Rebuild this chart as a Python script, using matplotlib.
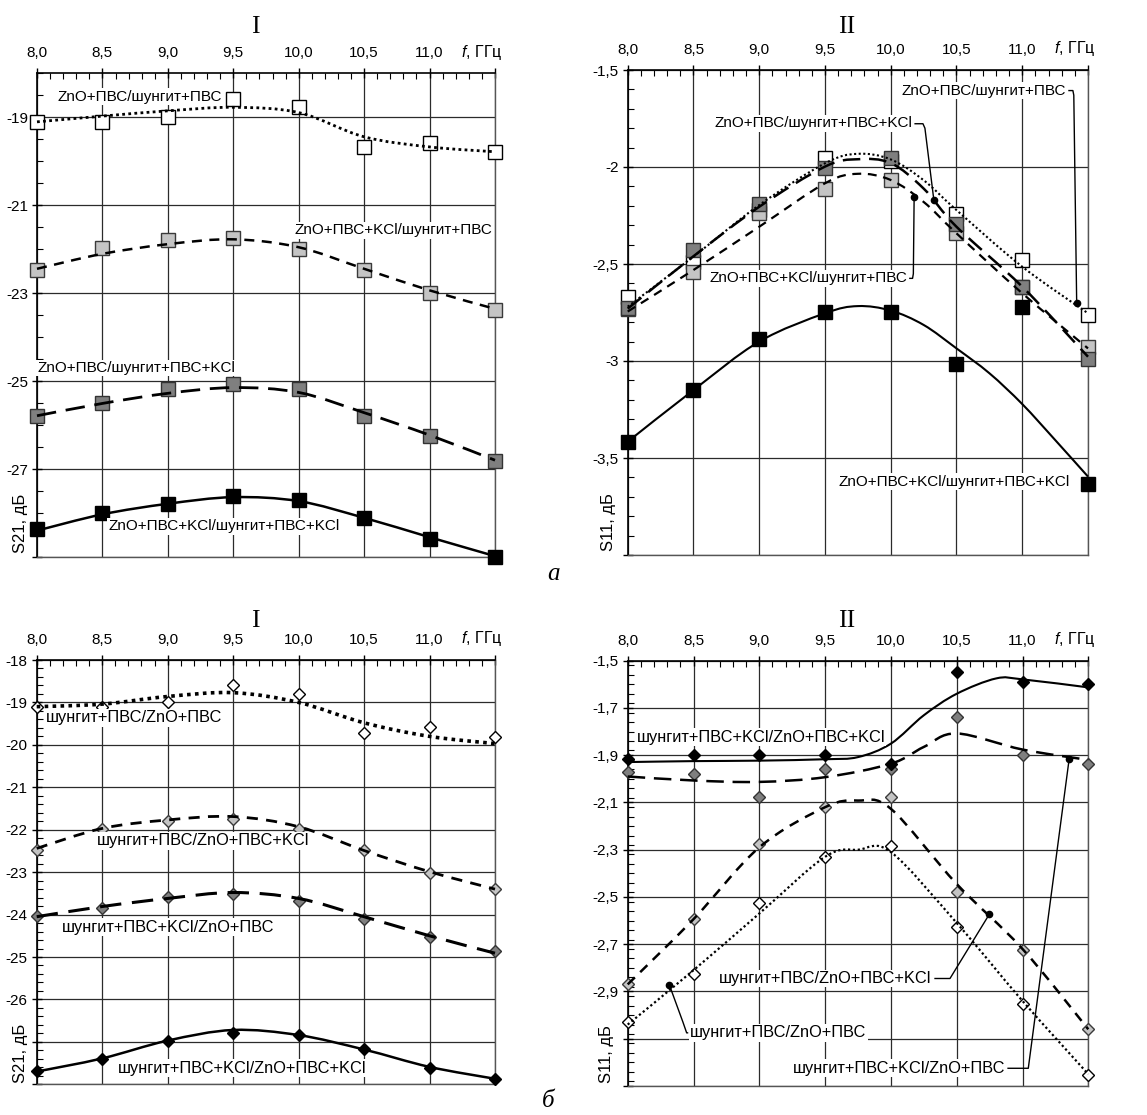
import numpy as np
import matplotlib
matplotlib.use('Agg')
import matplotlib.pyplot as plt
from matplotlib.path import Path
from matplotlib.patches import PathPatch
from matplotlib.ticker import MultipleLocator

plt.rcParams['font.family'] = ['Liberation Sans', 'DejaVu Sans']
plt.rcParams['mathtext.fontset'] = 'custom'
plt.rcParams['mathtext.it'] = 'Liberation Sans:italic'
plt.rcParams['mathtext.rm'] = 'Liberation Sans'

W, H = 1147, 1115

# ---------------- data ----------------
freq = [8.0, 8.5, 9.0, 9.5, 10.0, 10.5, 11.0, 11.5]
x_ticklabels = ['8,0', '8,5', '9,0', '9,5', '10,0', '10,5', '11,0', '']
f_label = '$f$, ГГц'

# --- a, I : S21 (squares)
a1_names = ['ZnO+ПВС/шунгит+ПВС', 'ZnO+ПВС+KCl/шунгит+ПВС',
            'ZnO+ПВС/шунгит+ПВС+KCl', 'ZnO+ПВС+KCl/шунгит+ПВС+KCl']
a1_white = [-19.11, -19.11, -18.99, -18.59, -18.77, -19.68, -19.60, -19.79]
a1_light = [-22.47, -21.97, -21.80, -21.74, -21.99, -22.47, -23.00, -23.38]
a1_dark = [-25.79, -25.49, -25.18, -25.07, -25.18, -25.79, -26.25, -26.82]
a1_black = [-28.37, -28.00, -27.80, -27.62, -27.71, -28.11, -28.60, -29.00]
a1_white_fit = [-19.11, -18.98, -18.86, -18.78, -18.90, -19.45, -19.68, -19.79]
a1_light_fit = [-22.45, -22.11, -21.89, -21.78, -21.96, -22.45, -22.94, -23.36]
a1_dark_fit = [-25.79, -25.51, -25.28, -25.15, -25.26, -25.72, -26.23, -26.80]
a1_black_fit = [-28.40, -28.03, -27.79, -27.64, -27.73, -28.11, -28.55, -28.98]
a1_yticks = [-29, -27, -25, -23, -21, -19]
a1_yticklabels = ['', '-27', '-25', '-23', '-21', '-19']

# --- a, II : S11 (squares)
a2_white = [-2.67, -2.49, -2.22, -1.955, -1.97, -2.24, -2.48, -2.763]
a2_light = [-2.73, -2.54, -2.239, -2.115, -2.067, -2.342, -2.62, -2.926]
a2_dark = [-2.728, -2.428, -2.191, -2.007, -1.955, -2.294, -2.617, -2.991]
a2_black = [-3.416, -3.149, -2.888, -2.746, -2.749, -3.015, -2.72, -3.634]
a2_fit_x = [8.0, 8.5, 9.0, 9.5, 9.75, 10.0, 10.25, 10.5, 11.0, 11.5]
a2_white_fit = [-2.72, -2.462, -2.196, -1.981, -1.932, -1.961, -2.068, -2.222, -2.514, -2.754]
a2_light_fit = [-2.745, -2.531, -2.308, -2.084, -2.035, -2.067, -2.18, -2.342, -2.651, -2.935]
a2_dark_fit = [-2.73, -2.46, -2.205, -1.998, -1.96, -1.98, -2.111, -2.308, -2.617, -2.978]
a2_black_fit_x = [8.0, 8.5, 9.0, 9.5, 9.75, 10.0, 10.25, 10.5, 10.75, 11.0, 11.25, 11.5]
a2_black_fit = [-3.416, -3.15, -2.90, -2.754, -2.717, -2.74, -2.814, -2.935, -3.063, -3.222, -3.407, -3.596]
a2_yticks = [-4.0, -3.5, -3.0, -2.5, -2.0, -1.5]
a2_yticklabels = ['', '-3,5', '-3', '-2,5', '-2', '-1,5']

# --- b, I : S21 (diamonds)
b_names = ['шунгит+ПВС/ZnO+ПВС', 'шунгит+ПВС/ZnO+ПВС+KCl',
           'шунгит+ПВС+KCl/ZnO+ПВС', 'шунгит+ПВС+KCl/ZnO+ПВС+KCl']
b1_white = [-19.10, -19.11, -19.00, -18.59, -18.80, -19.71, -19.59, -19.81]
b1_light = [-22.48, -21.99, -21.79, -21.75, -21.99, -22.48, -23.01, -23.40]
b1_dark = [-24.03, -23.85, -23.58, -23.52, -23.68, -24.10, -24.52, -24.87]
b1_black = [-27.69, -27.41, -26.97, -26.78, -26.84, -27.17, -27.62, -27.88]
b1_white_fit = [-19.10, -19.04, -18.86, -18.77, -19.00, -19.48, -19.80, -19.97]
b1_light_fit = [-22.44, -21.97, -21.77, -21.69, -21.93, -22.49, -22.99, -23.40]
b1_dark_fit = [-24.05, -23.81, -23.62, -23.48, -23.62, -24.05, -24.50, -24.91]
b1_black_fit = [-27.70, -27.39, -26.97, -26.72, -26.84, -27.18, -27.59, -27.87]
b1_yticks = [-28, -27, -26, -25, -24, -23, -22, -21, -20, -19, -18]
b1_yticklabels = ['', '', '-26', '-25', '-24', '-23', '-22', '-21', '-20', '-19', '-18']

# --- b, II : S11 (diamonds)
b2_white = [-3.029, -2.825, -2.527, -2.332, -2.283, -2.627, -2.955, -3.252]
b2_light = [-2.87, -2.594, -2.275, -2.12, -2.075, -2.477, -2.726, -3.06]
b2_dark = [-1.971, -1.981, -2.077, -1.96, -1.96, -1.738, -1.897, -1.936]
b2_black = [-1.914, -1.90, -1.90, -1.90, -1.936, -1.547, -1.59, -1.60]
b2_fit_x = [8.0, 8.5, 9.0, 9.5, 9.75, 10.0, 10.5, 11.0, 11.5]
b2_white_fit = [-3.04, -2.81, -2.57, -2.33, -2.30, -2.31, -2.61, -2.94, -3.25]
b2_light_fit = [-2.87, -2.594, -2.29, -2.12, -2.092, -2.127, -2.445, -2.72, -3.06]
b2_dark_fit_x = [8.0, 8.5, 9.0, 9.5, 10.0, 10.25, 10.5, 11.0, 11.5]
b2_dark_fit = [-1.99, -2.007, -2.013, -1.993, -1.936, -1.865, -1.808, -1.876, -1.92]
b2_black_fit_x = [8.0, 8.5, 9.0, 9.5, 9.75, 10.0, 10.25, 10.5, 10.8, 11.0, 11.5]
b2_black_fit = [-1.929, -1.925, -1.923, -1.917, -1.908, -1.851, -1.731, -1.640, -1.575, -1.579, -1.613]
b2_yticks = [-3.3, -3.1, -2.9, -2.7, -2.5, -2.3, -2.1, -1.9, -1.7, -1.5]
b2_yticklabels = ['', '', '-2,9', '-2,7', '-2,5', '-2,3', '-2,1', '-1,9', '-1,7', '-1,5']

# ---------------- styles ----------------
FILL = ['white', '#c4c4c4', '#7f7f7f', 'black']
EDGE = ['black', '#3a3a3a', '#333333', 'black']
LS = [(0, (1, 1.2)), (0, (4, 3)), (0, (7, 3.5)), '-']


def px_rect(l, r, t, b):
    return [l / W, 1 - b / H, (r - l) / W, (b - t) / H]


def smooth_path(xs, ys):
    P = np.column_stack([xs, ys]).astype(float)
    n = len(P)
    verts = [P[0]]
    codes = [Path.MOVETO]
    for i in range(n - 1):
        p0 = P[i - 1] if i > 0 else P[i]
        p1, p2 = P[i], P[i + 1]
        p3 = P[i + 2] if i + 2 < n else P[i + 1]
        verts += [p1 + (p2 - p0) / 6.0, p2 - (p3 - p1) / 6.0, p2]
        codes += [Path.CURVE4] * 3
    return Path(verts, codes)


def setup_axes(ax, ylim, yticks, yticklabels, yminor):
    ax.set_xlim(8.0, 11.5)
    ax.set_ylim(*ylim)
    ax.xaxis.tick_top()
    ax.set_xticks(freq)
    ax.set_xticklabels(x_ticklabels)
    ax.xaxis.set_minor_locator(MultipleLocator(0.1))
    ax.set_yticks(yticks)
    ax.set_yticklabels(yticklabels)
    ax.yaxis.set_minor_locator(MultipleLocator(yminor))
    ax.tick_params(axis='x', which='major', direction='inout', length=7, width=1,
                   pad=6, labelsize=11, top=True, bottom=False)
    ax.tick_params(axis='x', which='minor', direction='in', length=4, width=0.8,
                   top=True, bottom=False)
    ax.tick_params(axis='y', which='major', direction='inout', length=7, width=1,
                   pad=3, labelsize=11)
    ax.tick_params(axis='y', which='minor', direction='in', length=4, width=0.8)
    ax.grid(True, which='major', color='#2b2b2b', lw=0.9)
    for s in ['top', 'left']:
        ax.spines[s].set_color('black')
        ax.spines[s].set_linewidth(1.2)
    for s in ['right', 'bottom']:
        ax.spines[s].set_color('#555555')
        ax.spines[s].set_linewidth(1.0)
    ax.set_axisbelow(True)
    ax.annotate(f_label, xy=(1, 1), xycoords='axes fraction', xytext=(7, 21),
                textcoords='offset pixels', ha='right', va='center', fontsize=11.5)


def draw_series(ax, x, ys, marker, ms, mew):
    for i, y in enumerate(ys):
        ax.plot(x, y, linestyle='none', marker=marker, ms=ms, mfc=FILL[i],
                mec=EDGE[i], mew=mew, zorder=3 + i * 0.1, clip_on=False)


def draw_fits(ax, fits, lws):
    for i, (fx, fy) in enumerate(fits):
        patch = PathPatch(smooth_path(fx, fy), fill=False, edgecolor='black',
                          lw=lws[i], linestyle=LS[i], zorder=4, clip_on=False,
                          capstyle='butt')
        ax.add_patch(patch)


def label(ax, x, y, s, ha='center', fs=11):
    ax.text(x, y, s, ha=ha, va='center', fontsize=fs, zorder=5,
            bbox=dict(facecolor='white', edgecolor='none', pad=1.0))


def leader(ax, xs, ys):
    ax.plot(xs, ys, color='black', lw=1.0, zorder=6, solid_capstyle='butt')
    ax.plot(xs[-1], ys[-1], 'o', color='black', ms=4.5, zorder=6)


fig = plt.figure(figsize=(W / 100, H / 100), dpi=100)

# ---------- a, I ----------
ax = fig.add_axes(px_rect(37, 495, 73, 557))
setup_axes(ax, (-29, -18), a1_yticks, a1_yticklabels, 0.5)
draw_series(ax, freq, [a1_white, a1_light, a1_dark, a1_black], 's', 9.5, 1.0)
draw_fits(ax, [(freq, a1_white_fit), (freq, a1_light_fit), (freq, a1_dark_fit),
               (freq, a1_black_fit)], [2.0, 1.8, 2.0, 1.8])
label(ax, 8.789, -18.537, a1_names[0])
label(ax, 10.726, -21.576, a1_names[1])
label(ax, 8.759, -24.705, a1_names[2])
label(ax, 9.43, -28.299, a1_names[3])

# ---------- a, II ----------
ax = fig.add_axes(px_rect(627.7, 1088, 70, 555))
setup_axes(ax, (-4.0, -1.5), a2_yticks, a2_yticklabels, 0.1)
draw_series(ax, freq, [a2_white, a2_light, a2_dark, a2_black], 's', 9.5, 1.0)
draw_fits(ax, [(a2_fit_x, a2_white_fit), (a2_fit_x, a2_light_fit),
               (a2_fit_x, a2_dark_fit), (a2_black_fit_x, a2_black_fit)],
          [1.5, 1.6, 1.8, 1.5])
label(ax, 11.333, -1.606, a1_names[0], ha='right')
leader(ax, [11.35, 11.385, 11.392, 11.414], [-1.606, -1.606, -1.63, -2.702])
label(ax, 10.164, -1.775, a1_names[2], ha='right')
leader(ax, [10.18, 10.245, 10.26, 10.328], [-1.777, -1.777, -1.80, -2.171])
label(ax, 10.124, -2.574, a1_names[1], ha='right')
leader(ax, [10.14, 10.166, 10.172, 10.178], [-2.574, -2.574, -2.55, -2.153])
label(ax, 11.363, -3.622, a1_names[3], ha='right')

# ---------- b, I ----------
ax = fig.add_axes(px_rect(36.7, 495, 660, 1084.3))
setup_axes(ax, (-28, -18), b1_yticks, b1_yticklabels, 0.2)
draw_series(ax, freq, [b1_white, b1_light, b1_dark, b1_black], 'D', 6.3, 1.0)
draw_fits(ax, [(freq, b1_white_fit), (freq, b1_light_fit), (freq, b1_dark_fit),
               (freq, b1_black_fit)], [2.6, 2.0, 2.2, 1.8])
label(ax, 8.745, -19.36, b_names[0], fs=11.8)
label(ax, 9.272, -22.259, b_names[1], fs=11.8)
label(ax, 9.003, -24.30, b_names[2], fs=11.8)
label(ax, 9.572, -27.623, b_names[3], fs=11.8)

# ---------- b, II ----------
ax = fig.add_axes(px_rect(627.7, 1088.3, 660.7, 1086))
setup_axes(ax, (-3.3, -1.5), b2_yticks, b2_yticklabels, 0.04)
draw_series(ax, freq, [b2_white, b2_light, b2_dark, b2_black], 'D', 6.3, 1.0)
draw_fits(ax, [(b2_fit_x, b2_white_fit), (b2_fit_x, b2_light_fit),
               (b2_dark_fit_x, b2_dark_fit), (b2_black_fit_x, b2_black_fit)],
          [1.6, 1.8, 1.8, 1.5])
label(ax, 9.011, -1.823, b_names[3], fs=11.8)
label(ax, 10.309, -2.845, b_names[1], ha='right', fs=11.8)
leader(ax, [10.33, 10.449, 10.748], [-2.845, -2.845, -2.573])
label(ax, 8.474, -3.075, b_names[0], ha='left', fs=11.8)
leader(ax, [8.46, 8.448, 8.42, 8.317], [-3.075, -3.075, -3.03, -2.873])
label(ax, 10.867, -3.225, b_names[2], ha='right', fs=11.8)
leader(ax, [10.885, 11.044, 11.355], [-3.225, -3.225, -1.914])

# ---------- axis titles, panel titles ----------
def ytitle(xpx, ybottom_px, s):
    fig.text(xpx / W, 1 - ybottom_px / H, s, rotation=90, ha='center', va='bottom',
             fontsize=12)

ytitle(20.5, 553, 'S21, дБ')
ytitle(608, 551, 'S11, дБ')
ytitle(20.5, 1083, 'S21, дБ')
ytitle(607, 1083, 'S11, дБ')

serif = ['Liberation Serif', 'DejaVu Serif']
for xp, yp, s in [(255.7, 33.3, 'I'), (846.7, 33.3, 'II'),
                  (255.7, 626.7, 'I'), (846.7, 626.7, 'II')]:
    fig.text(xp / W, 1 - yp / H, s, family=serif, fontsize=18.5,
             ha='center', va='baseline')
fig.text(553 / W, 1 - 580 / H, 'а', family=serif, style='italic', fontsize=18,
         ha='center', va='baseline')
fig.text(548 / W, 1 - 1107 / H, 'б', family=serif, style='italic', fontsize=18,
         ha='center', va='baseline')

fig.savefig('out.png', dpi=100)
